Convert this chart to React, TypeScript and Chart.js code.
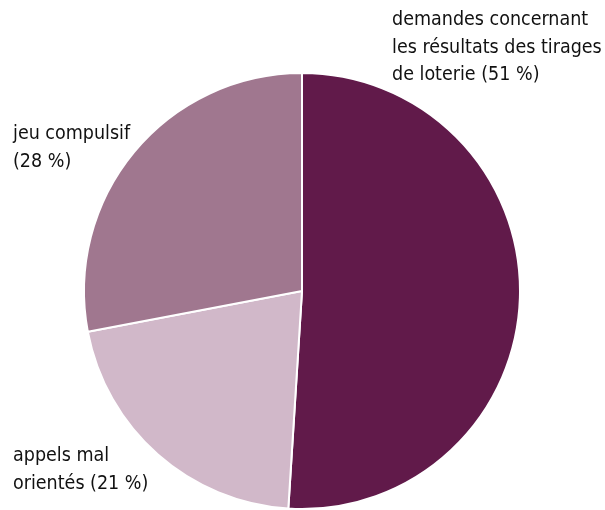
import React, { useEffect, useRef } from "react";
import { Chart, registerables } from "chart.js";

Chart.register(...registerables);

const categories = [
  "demandes concernant les résultats des tirages de loterie",
  "appels mal orientés",
  "jeu compulsif",
];
const values = [51, 21, 28];
const colors = ["#611a4a", "#d1b8c9", "#a0778f"];
const labelLines = [
  ["demandes concernant", "les résultats des tirages", "de loterie (51 %)"],
  ["appels mal", "orientés (21 %)"],
  ["jeu compulsif", "(28 %)"],
];
const labelPos = [
  { x: 392, y: 20 },
  { x: 13, y: 456 },
  { x: 13, y: 134 },
];

const FONT = '19.5px "Liberation Sans Narrow", "Arial Narrow", "DejaVu Sans Condensed", sans-serif';

const labelPlugin = {
  id: "outsideLabels",
  afterDraw(chart: any) {
    const ctx = chart.ctx;
    ctx.save();
    ctx.font = FONT;
    ctx.fillStyle = "#111111";
    ctx.textBaseline = "middle";
    ctx.textAlign = "left";
    labelLines.forEach((lines, i) => {
      lines.forEach((line, j) => {
        ctx.fillText(line, labelPos[i].x, labelPos[i].y + j * 27.5);
      });
    });
    ctx.restore();
  },
};

export default function App() {
  const ref = useRef<HTMLCanvasElement>(null);
  useEffect(() => {
    if (!ref.current) return;
    const chart = new Chart(ref.current, {
      type: "pie",
      data: {
        labels: categories,
        datasets: [
          {
            data: values,
            backgroundColor: colors,
            borderColor: "#ffffff",
            borderWidth: 2,
          },
        ],
      },
      options: {
        responsive: false,
        animation: false,
        layout: { padding: { left: 83, right: 84, top: 72, bottom: 0 } },
        plugins: {
          legend: { display: false },
          tooltip: { enabled: false },
        },
      },
      plugins: [labelPlugin],
    });
    return () => chart.destroy();
  }, []);
  return (
    <div style={{ position: "fixed", left: 0, top: 0, width: 605, height: 510, background: "#fff" }}>
      <canvas ref={ref} width={605} height={510} style={{ width: 605, height: 510 }} />
    </div>
  );
}
